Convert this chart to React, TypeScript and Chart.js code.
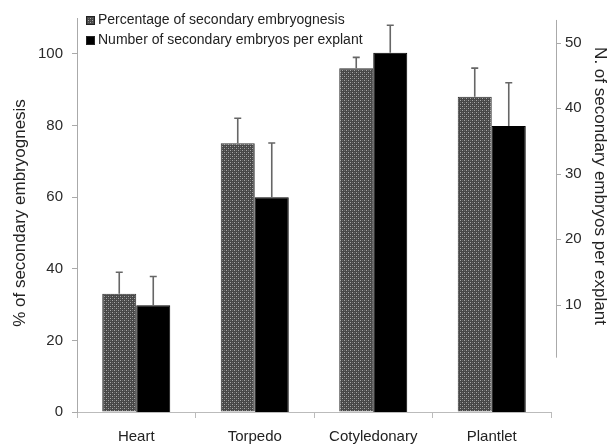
import React, { useEffect, useRef } from 'react';
import { Chart, registerables } from 'chart.js';

Chart.register(...registerables);

const categories = ['Heart', 'Torpedo', 'Cotyledonary', 'Plantlet'];
const pctLabel = 'Percentage of secondary embryognesis';
const numLabel = 'Number of secondary embryos per explant';
const pctValues = [33, 75, 96, 88];
const pctErrors = [6, 7, 3, 8];
const numValues = [9.9, 26.4, 48.5, 37.3];
const numErrors = [4.4, 8.3, 4.2, 6.6];
const leftTicks = [0, 20, 40, 60, 80, 100];
const rightTicks = [10, 20, 30, 40, 50];
const leftTitle = '% of secondary embryognesis';
const rightTitle = 'N. of secondary embryos per explant';

const LEFT_MIN = 0;
const LEFT_MAX = 110;
const RIGHT_MIN = -6.4;
const RIGHT_MAX = 53.8;
const RIGHT_LINE_FROM = 1.9;
const RIGHT_LINE_TO = 53.5;

const FONT = "'Liberation Sans', Arial, sans-serif";

function makePattern(ctx: CanvasRenderingContext2D): CanvasPattern | string {
  const c = document.createElement('canvas');
  c.width = 4;
  c.height = 4;
  const p = c.getContext('2d');
  if (!p) return '#666666';
  p.fillStyle = '#474747';
  p.fillRect(0, 0, 4, 4);
  p.fillStyle = '#a8a8a8';
  p.fillRect(0, 0, 1, 1);
  p.fillRect(2, 2, 1, 1);
  p.fillStyle = '#6a6a6a';
  p.fillRect(2, 0, 1, 1);
  p.fillRect(0, 2, 1, 1);
  return ctx.createPattern(c, 'repeat') || '#666666';
}

export default function App() {
  const ref = useRef<HTMLCanvasElement>(null);

  useEffect(() => {
    const canvas = ref.current;
    if (!canvas) return;
    const ctx = canvas.getContext('2d');
    if (!ctx) return;
    const pattern = makePattern(ctx);
    const errs = [pctErrors, numErrors];

    const decor = {
      id: 'decor',
      afterDatasetsDraw(chart: any) {
        const c = chart.ctx;
        chart.data.datasets.forEach((ds: any, di: number) => {
          const meta = chart.getDatasetMeta(di);
          const scale = chart.scales[ds.yAxisID];
          meta.data.forEach((el: any, i: number) => {
            const v = ds.data[i];
            const top = scale.getPixelForValue(v + errs[di][i]);
            c.save();
            c.strokeStyle = '#666666';
            c.lineWidth = 1.6;
            c.beginPath();
            c.moveTo(el.x, el.y);
            c.lineTo(el.x, top);
            c.moveTo(el.x - 3.5, top);
            c.lineTo(el.x + 3.5, top);
            c.stroke();
            c.restore();
          });
        });
      },
      afterDraw(chart: any) {
        const c = chart.ctx;
        const y1 = chart.scales.y1;
        const ax = y1.left + 5;
        c.save();
        c.strokeStyle = '#aaaaaa';
        c.lineWidth = 1;
        c.beginPath();
        c.moveTo(ax + 0.5, y1.getPixelForValue(RIGHT_LINE_TO));
        c.lineTo(ax + 0.5, y1.getPixelForValue(RIGHT_LINE_FROM));
        rightTicks.forEach((t) => {
          const py = Math.round(y1.getPixelForValue(t)) + 0.5;
          c.moveTo(ax, py);
          c.lineTo(ax + 5, py);
        });
        c.stroke();
        c.fillStyle = '#222';
        c.font = `17px ${FONT}`;
        c.textAlign = 'center';
        c.textBaseline = 'middle';
        c.save();
        c.translate(20, 213);
        c.rotate(-Math.PI / 2);
        c.fillText(leftTitle, 0, 0);
        c.restore();
        c.save();
        c.translate(600, 186);
        c.rotate(Math.PI / 2);
        c.fillText(rightTitle, 0, 0);
        c.restore();
        const items = [
          { label: pctLabel, fill: pattern, y: 20.5 },
          { label: numLabel, fill: '#000', y: 40.5 },
        ];
        c.font = `14px ${FONT}`;
        c.textAlign = 'left';
        items.forEach((it) => {
          c.fillStyle = it.fill as any;
          c.fillRect(86, it.y - 4.5, 9, 9);
          c.strokeStyle = '#222';
          c.strokeRect(86.5, it.y - 4, 8, 8);
          c.fillStyle = '#222';
          c.fillText(it.label, 98, it.y);
        });
        c.restore();
      },
    };

    const chart = new Chart(ctx, {
      type: 'bar',
      data: {
        labels: categories,
        datasets: [
          {
            label: pctLabel,
            data: pctValues,
            yAxisID: 'y',
            backgroundColor: pattern as any,
            borderColor: '#333',
            borderWidth: 1,
            categoryPercentage: 0.574,
            barPercentage: 1,
          },
          {
            label: numLabel,
            data: numValues,
            yAxisID: 'y1',
            base: RIGHT_MIN,
            backgroundColor: '#000',
            borderColor: '#000',
            borderWidth: 1,
            categoryPercentage: 0.574,
            barPercentage: 1,
          } as any,
        ],
      },
      options: {
        responsive: false,
        animation: false,
        devicePixelRatio: 1,
        layout: { padding: { top: 18, left: 0, right: 0, bottom: 0 } },
        plugins: {
          legend: { display: false },
          tooltip: { enabled: false },
        },
        scales: {
          x: {
            offset: true,
            grid: { offset: true, drawOnChartArea: false, drawTicks: true, tickLength: 6, color: '#bbbbbb' },
            border: { color: '#bbbbbb' },
            ticks: { font: { family: FONT, size: 15 }, color: '#222', padding: 10 },
            afterFit: (s: any) => { s.height = 32; },
          },
          y: {
            position: 'left',
            min: LEFT_MIN,
            max: LEFT_MAX,
            afterBuildTicks: (s: any) => { s.ticks = leftTicks.map((v) => ({ value: v })); },
            grid: { drawOnChartArea: false, drawTicks: true, tickLength: 5, color: '#aaaaaa' },
            border: { color: '#aaaaaa' },
            ticks: { font: { family: FONT, size: 15 }, color: '#2a2a2a', padding: 9 },
            afterFit: (s: any) => { s.width = 77; },
          },
          y1: {
            position: 'right',
            min: RIGHT_MIN,
            max: RIGHT_MAX,
            afterBuildTicks: (s: any) => { s.ticks = rightTicks.map((v) => ({ value: v })); },
            grid: { display: false, drawTicks: true, tickLength: 5 },
            border: { display: false },
            ticks: { font: { family: FONT, size: 15 }, color: '#2a2a2a', padding: 9 },
            afterFit: (s: any) => { s.width = 59; },
          },
        },
      },
      plugins: [decor],
    });

    return () => chart.destroy();
  }, []);

  return (
    <div style={{ position: 'absolute', left: 0, top: 0, width: 610, height: 444, background: '#fff' }}>
      <canvas ref={ref} width={610} height={444} style={{ display: 'block', width: 610, height: 444 }} />
    </div>
  );
}
